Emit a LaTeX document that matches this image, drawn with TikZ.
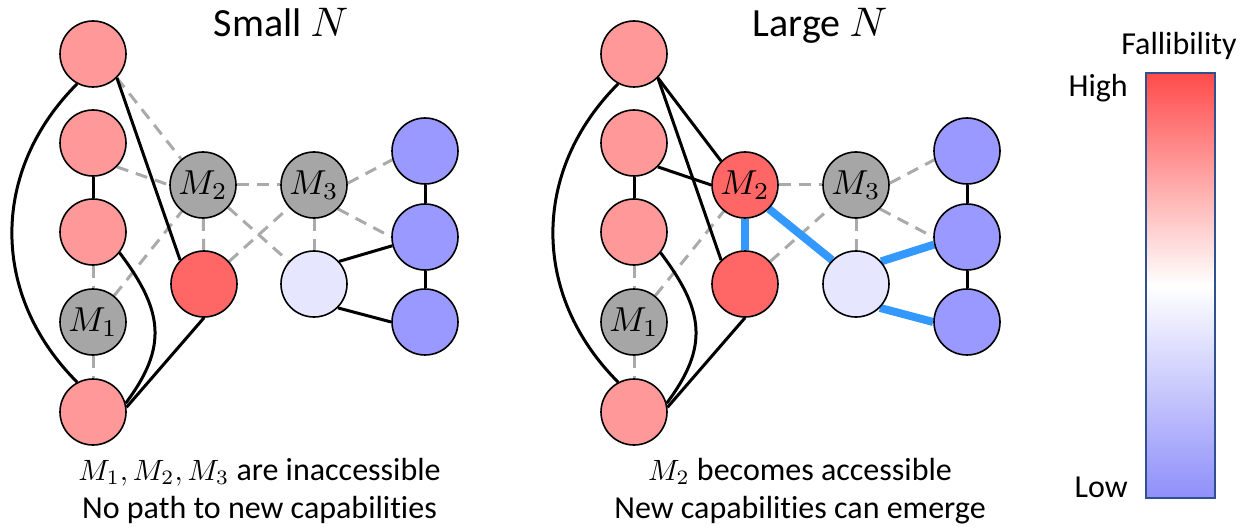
\documentclass[tikz,border=0pt]{standalone}
\usepackage{graphicx}
\usepackage[no-math]{fontspec}
\setmainfont{Carlito}[Ligatures=NoCommon]
\usetikzlibrary{backgrounds}
\definecolor{pinkc}{RGB}{255,153,153}
\definecolor{redc}{RGB}{255,102,102}
\definecolor{grayc}{RGB}{166,166,166}
\definecolor{lavc}{RGB}{230,230,255}
\definecolor{bluec}{RGB}{153,153,255}
\definecolor{dashc}{RGB}{170,170,170}
\definecolor{hilite}{RGB}{51,153,255}
\definecolor{cbtop}{RGB}{255,75,75}
\definecolor{cbbot}{RGB}{143,143,250}
\definecolor{cbframe}{RGB}{47,82,143}
\newcommand{\smath}[2]{\scalebox{#1}{\fontsize{10}{12}\selectfont$#2$}}
\begin{document}
\begin{tikzpicture}[x=0.75pt,y=-0.75pt,
  vert/.style={circle,draw=black,line width=1.2pt,minimum size=49.5pt,inner sep=0pt},
  pinkv/.style={vert,fill=pinkc},
  redv/.style={vert,fill=redc},
  grayv/.style={vert,fill=grayc},
  lavv/.style={vert,fill=lavc},
  bluev/.style={vert,fill=bluec},
  solidedge/.style={black,line width=2.25pt},
  dashedge/.style={dashc,line width=2.25pt,dash pattern=on 9pt off 6pt},
  hiedge/.style={hilite,line width=6pt},
  lbl/.style={font=\fontsize{24}{28}\selectfont,anchor=base,inner sep=0pt},
  ttl/.style={font=\fontsize{30}{36}\selectfont,anchor=base,inner sep=0pt}]
\useasboundingbox (0,0) rectangle (1242,531);

% ---------- left panel nodes ----------
\node[pinkv] (la1) at (93,54) {};
\node[pinkv] (la2) at (93,143) {};
\node[pinkv] (la3) at (93,232) {};
\node[grayv] (lm1) at (93,322) {\smath{2.6}{M_1}};
\node[pinkv] (la5) at (93,412) {};
\node[grayv] (lm2) at (203,185) {\smath{2.6}{M_2}};
\node[redv]  (lr)  at (204,284) {};
\node[grayv] (lm3) at (314,185) {\smath{2.6}{M_3}};
\node[lavv]  (ll)  at (314,284) {};
\node[bluev] (lb1) at (425,151) {};
\node[bluev] (lb2) at (425,237) {};
\node[bluev] (lb3) at (425,322) {};

% ---------- right panel nodes ----------
\node[pinkv] (ra1) at (634,54) {};
\node[pinkv] (ra2) at (634,143) {};
\node[pinkv] (ra3) at (634,232) {};
\node[grayv] (rm1) at (634,322) {\smath{2.6}{M_1}};
\node[pinkv] (ra5) at (634,412) {};
\node[redv]  (rm2) at (745,185) {\smath{2.6}{M_2}};
\node[redv]  (rr)  at (745,284) {};
\node[grayv] (rm3) at (856,185) {\smath{2.6}{M_3}};
\node[lavv]  (rl)  at (856,284) {};
\node[bluev] (rb1) at (967,151) {};
\node[bluev] (rb2) at (967,237) {};
\node[bluev] (rb3) at (967,322) {};

\begin{scope}[on background layer]
% left dashed
\draw[dashedge] (la1.-45) -- (lm2.130);
\draw[dashedge] (la2.-45) -- (lm2.180);
\draw[dashedge] (la3) -- (lm1);
\draw[dashedge] (lm1) -- (la5);
\draw[dashedge] (lm1) -- (lm2);
\draw[dashedge] (lm2) -- (lr);
\draw[dashedge] (lm2) -- (ll);
\draw[dashedge] (lm2) -- (lm3);
\draw[dashedge] (lr) -- (lm3);
\draw[dashedge] (lm3) -- (ll);
\draw[dashedge] (lm3.3) -- (lb1.195);
\draw[dashedge] (lm3.-45) -- (lb2.180);
% left solid
\draw[solidedge] (la1.-118) .. controls +(-87,87) and +(-87,-87) .. (la5.118);
\draw[solidedge] (la1.-45) -- (lr.135);
\draw[solidedge] (la2) -- (la3);
\draw[solidedge] (la3.-38) .. controls +(43,57) and +(43,-57) .. (la5.15);
\draw[solidedge] (lr.-90) -- (la5.8);
\draw[solidedge] (ll.42) -- (lb2.195);
\draw[solidedge] (ll.-45) -- (lb3.180);
\draw[solidedge] (lb1) -- (lb2);
\draw[solidedge] (lb2) -- (lb3);

% right dashed
\draw[dashedge] (ra3) -- (rm1);
\draw[dashedge] (rm1) -- (ra5);
\draw[dashedge] (rm1) -- (rm2);
\draw[dashedge] (rm2) -- (rm3);
\draw[dashedge] (rr) -- (rm3);
\draw[dashedge] (rm3) -- (rl);
\draw[dashedge] (rm3.3) -- (rb1.195);
\draw[dashedge] (rm3.-45) -- (rb2.180);
% right solid
\draw[solidedge] (ra1.-118) .. controls +(-87,87) and +(-87,-87) .. (ra5.118);
\draw[solidedge] (ra1.-45) -- (rm2.135);
\draw[solidedge] (ra1.-45) -- (rr.135);
\draw[solidedge] (ra2.-45) -- (rm2.180);
\draw[solidedge] (ra2) -- (ra3);
\draw[solidedge] (ra3.-38) .. controls +(43,57) and +(43,-57) .. (ra5.15);
\draw[solidedge] (rr.-90) -- (ra5.8);
\draw[solidedge] (rb1) -- (rb2);
\draw[solidedge] (rb2) -- (rb3);
% right highlighted
\draw[hiedge] (rm2) -- (rr);
\draw[hiedge] (rm2.-45) -- (rl.135);
\draw[hiedge] (rl.42) -- (rb2.193);
\draw[hiedge] (rl.-45) -- (rb3.180);
\end{scope}

% ---------- texts ----------
\node[ttl] (t1) at (281,37) {Small \smath{3.1}{N}};
\node[ttl] (t2) at (820,37) {Large \smath{3.1}{N}};
\node[lbl] (c1a) at (259.5,480) {\smath{2.2}{M_1, M_2, M_3} are inaccessible};
\node[lbl] (c1b) at (259.5,518) {No path to new capabilities};
\node[lbl] (c2a) at (800,480) {\smath{2.2}{M_2} becomes accessible};
\node[lbl] (c2b) at (800,518) {New capabilities can emerge};

% ---------- colour bar ----------
\shade[top color=cbtop,bottom color=cbbot,middle color=white] (1146,73) rectangle (1215,498);
\draw[cbframe,line width=1.2pt] (1146,73) rectangle (1215,498);
\node[lbl] (fal) at (1179,55) {Fallibility};
\node[lbl,anchor=base east] (hi) at (1128,97) {High};
\node[lbl,anchor=base east] (lo) at (1128,497) {Low};
\end{tikzpicture}
\end{document}
